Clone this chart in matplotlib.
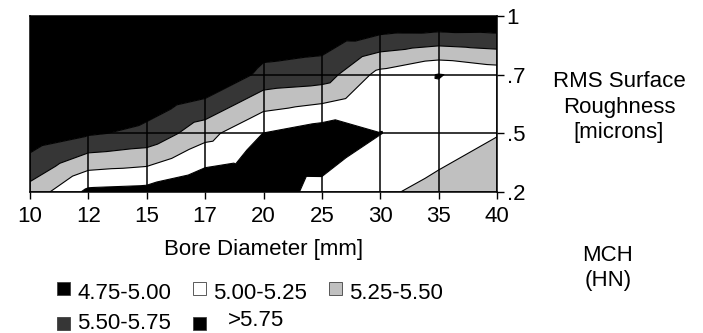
import numpy as np
import matplotlib
matplotlib.use("Agg")
import matplotlib.pyplot as plt
import matplotlib.tri as mtri
from matplotlib.patches import Rectangle

plt.rcParams['font.family'] = ['Liberation Sans', 'DejaVu Sans']

# Bore diameter categories (x) and RMS roughness categories (y)
bore_mm = ['10', '12', '15', '17', '20', '25', '30', '35', '40']
roughness = ['.2', '.5', '.7', '1']

# MCH (HN) values, one list per roughness row
mch_02 = [5.41, 4.94, 4.91, 4.76, 4.92, 5.05, 5.21, 5.325, 5.438]
mch_05 = [5.92, 5.78, 5.69, 5.34, 4.995, 4.86, 4.995, 5.125, 5.238]
mch_07 = [6.30, 6.20, 5.99, 6.03, 5.68, 5.63, 5.17, 4.99, 5.10]
mch_10 = [6.60, 6.50, 6.40, 6.30, 6.02, 6.00, 6.02, 6.03, 6.02]

band_edges = [4.75, 5.00, 5.25, 5.50, 5.75, 6.75]
band_colors = ['#000000', '#ffffff', '#c0c0c0', '#363636', '#000000']

Z = np.array([mch_02, mch_05, mch_07, mch_10])
ny, nx = Z.shape

# Surface mesh: every cell split into four triangles around its centre
xs, ys = np.meshgrid(np.arange(nx), np.arange(ny))
px = list(xs.ravel().astype(float))
py = list(ys.ravel().astype(float))
pz = list(Z.ravel())
tris = []
for j in range(ny - 1):
    for i in range(nx - 1):
        ll = j * nx + i
        lr = ll + 1
        ul = ll + nx
        ur = ul + 1
        c = len(px)
        px.append(i + 0.5)
        py.append(j + 0.5)
        pz.append(Z[j:j + 2, i:i + 2].mean())
        tris += [[ll, lr, c], [lr, ur, c], [ur, ul, c], [ul, ll, c]]
tri = mtri.Triangulation(px, py, tris)

W, H = 703, 333
FS = 16
fig = plt.figure(figsize=(W / 100, H / 100), dpi=100)
ax = fig.add_axes([30 / W, 1 - 192 / H, 467 / W, 176 / H])

ax.tricontourf(tri, pz, levels=band_edges, colors=band_colors, antialiased=True)
ax.tricontour(tri, pz, levels=band_edges[1:-1], colors='black', linewidths=0.8)

ax.set_xlim(0, nx - 1)
ax.set_ylim(0, ny - 1)
ax.set_xticks(range(nx))
ax.set_xticklabels(bore_mm)
ax.set_yticks(range(ny))
ax.set_yticklabels(roughness)
ax.yaxis.tick_right()
ax.tick_params(axis='both', direction='out', length=5, width=1, labelsize=FS,
               colors='black')
ax.tick_params(axis='x', pad=5)
ax.tick_params(axis='y', pad=2)
ax.grid(True, color='black', linewidth=1.1)
ax.set_axisbelow(False)
for s in ax.spines.values():
    s.set_linewidth(1.1)
    s.set_color('black')

ax.set_xlabel('Bore Diameter [mm]', fontsize=FS, labelpad=9)


def fx(x):
    return x / W


def fy(y):
    return 1 - y / H


fig.text(fx(619), fy(107), 'RMS Surface\nRoughness\n[microns]', ha='center',
         va='center', fontsize=FS, linespacing=1.28)
fig.text(fx(608), fy(268), 'MCH\n(HN)', ha='center', va='center', fontsize=FS,
         linespacing=1.28)

# Legend, one entry per band
labels = [f'{lo:.2f}-{hi:.2f}' for lo, hi in zip(band_edges[:-2], band_edges[1:-1])]
labels.append(f'>{band_edges[-2]:.2f}')
boxes = [(57, 288.5), (193, 288.5), (329, 288.5), (57, 323), (193, 323)]
texts = [(77, 293.5), (213, 293.5), (349, 293.5), (77, 323.5), (228, 320)]
for k, (lab, col) in enumerate(zip(labels, band_colors)):
    bx, by = boxes[k]
    fig.add_artist(Rectangle((fx(bx), fy(by + 6.5)), 13 / W, 13 / H,
                             transform=fig.transFigure, facecolor=col,
                             edgecolor='#404040', linewidth=0.6))
    tx, ty = texts[k]
    fig.text(fx(tx), fy(ty), lab, ha='left', va='center', fontsize=FS)

fig.savefig('out.png', dpi=100)
